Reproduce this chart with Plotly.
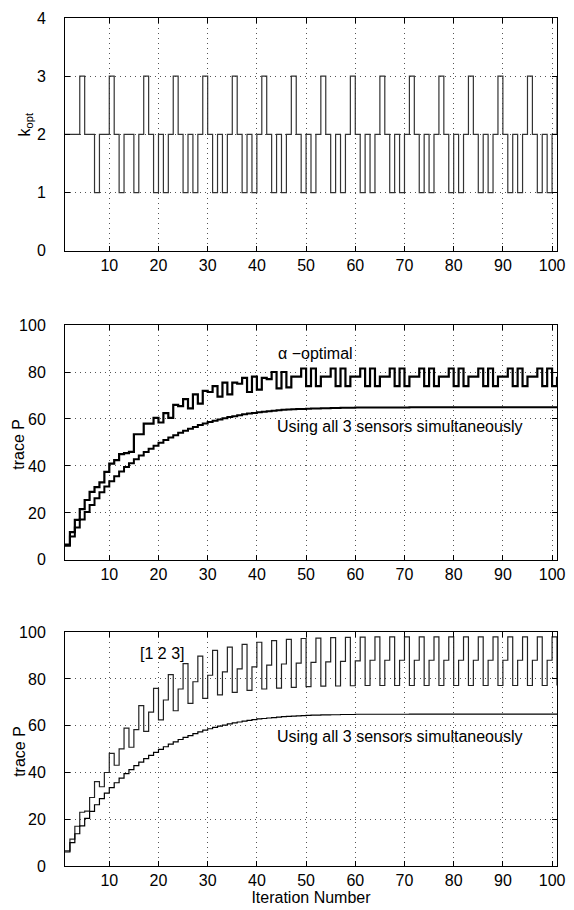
import plotly.graph_objects as go

# iteration index 1..101
iterations = list(range(1, 102))

# sensor chosen by the alpha-optimal scheduler
k_opt = [2, 2, 2, 3, 2, 2, 1, 2, 2, 3, 2, 1, 2, 2, 1, 2,
         3, 2, 1, 2, 1, 2, 3, 2, 1, 2, 1, 2, 3, 2, 1, 2, 1, 2,
         3, 2, 1, 2, 1, 2, 3, 2, 1, 2, 1, 2, 3, 2, 1, 2, 1, 2,
         3, 2, 1, 2, 1, 2, 3, 2, 1, 2, 1, 2, 3, 2, 1, 2, 1, 2,
         3, 2, 1, 2, 1, 2, 3, 2, 1, 2, 1, 2, 3, 2, 1, 2, 1, 2,
         3, 2, 1, 2, 1, 2, 3, 2, 1, 2, 1, 2, 3]

# trace P, alpha-optimal schedule
trace_alpha = [6.5, 11.8, 17.0, 21.6, 25.5, 29.0, 31.0, 33.0, 37.5, 41.0,
               42.5, 45.0, 45.5, 46.0, 53.5, 53.5, 58.0, 58.0, 60.5, 58.5,
               62.5, 60.5, 66.0, 65.5, 68.5, 64.5, 70.5, 66.5, 72.0, 71.5,
               74.0, 69.5, 75.5, 70.5, 75.5, 75.0, 77.5, 71.5, 78.0, 72.5,
               77.5, 77.0, 80.0, 73.0, 80.0, 73.5,
               78.0, 78.0, 81.5, 74.0, 81.5, 74.0, 78.0, 78.0, 81.5, 74.0, 81.5, 74.0,
               78.0, 78.0, 81.5, 74.0, 81.5, 74.0, 78.0, 78.0, 81.5, 74.0, 81.5, 74.0,
               78.0, 78.0, 81.5, 74.0, 81.5, 74.0, 78.0, 78.0, 81.5, 74.0, 81.5, 74.0,
               78.0, 78.0, 81.5, 74.0, 81.5, 74.0, 78.0, 78.0, 81.5, 74.0, 81.5, 74.0,
               78.0, 78.0, 81.5, 74.0, 81.5, 74.0, 78.0]

# trace P, all three sensors used simultaneously
trace_all3 = [6.0, 10.0, 13.8, 17.2, 20.4, 23.4, 26.2, 28.8, 31.2, 33.5,
              35.6, 37.6, 39.5, 41.2, 42.9, 44.4, 45.9, 47.3, 48.6, 49.9,
              51.0, 52.1, 53.1, 54.1, 55.0, 55.8, 56.6, 57.4, 58.1, 58.7,
              59.3, 59.8, 60.3, 60.8, 61.2, 61.6, 62.0, 62.3, 62.6, 62.9,
              63.1, 63.3, 63.5, 63.7, 63.9, 64.0, 64.1, 64.2, 64.3, 64.4,
              64.5, 64.5, 64.6, 64.6, 64.7, 64.7, 64.8, 64.8, 64.8, 64.9,
              64.9, 64.9, 64.9, 64.9, 64.9, 64.9, 64.9, 64.9, 64.9, 64.9,
              65.0, 65.0, 65.0, 65.0, 65.0, 65.0, 65.0, 65.0, 65.0, 65.0,
              65.0, 65.0, 65.0, 65.0, 65.0, 65.0, 65.0, 65.0, 65.0, 65.0,
              65.0, 65.0, 65.0, 65.0, 65.0, 65.0, 65.0, 65.0, 65.0, 65.0,
              65.0]

# trace P, cyclic schedule [1 2 3]
trace_cyclic = [6.5, 11.5, 17.0, 23.0, 23.5, 29.3, 36.1, 33.9, 40.0, 48.2,
                43.1, 50.1, 59.0, 50.8, 58.3, 68.6, 57.6, 65.8, 76.0, 62.5,
                71.0, 81.9, 66.4, 75.7, 86.6, 69.6, 78.8, 89.8, 71.7, 81.6,
                92.2, 73.2, 83.0, 93.6, 74.3, 84.3, 94.8, 75.1, 85.2, 95.7,
                75.7, 85.9, 96.4, 76.1, 86.4, 96.9, 76.4, 86.8, 97.3, 76.7,
                87.1, 97.5, 76.9, 87.3, 97.7, 77.0, 87.5, 97.8, 77.1, 87.7,
                97.9, 77.2, 88.0, 98.0, 77.2, 88.0, 98.0, 77.2, 88.0, 98.0,
                77.2, 88.0, 98.0, 77.2, 88.0, 98.0, 77.2, 88.0, 98.0, 77.2,
                88.0, 98.0, 77.2, 88.0, 98.0, 77.2, 88.0, 98.0, 77.2, 88.0,
                98.0, 77.2, 88.0, 98.0, 77.2, 88.0, 98.0, 77.2, 88.0, 98.0,
                77.2]

x_ticks = [10, 20, 30, 40, 50, 60, 70, 80, 90, 100]

FONT = "Liberation Sans, Arial, Helvetica, sans-serif"
FS = 16

fig = go.Figure()

# top: k_opt
fig.add_trace(go.Scatter(x=iterations, y=k_opt, mode="lines", line_shape="hv",
                         line=dict(color="#333333", width=1.2),
                         xaxis="x", yaxis="y", showlegend=False))
# middle
fig.add_trace(go.Scatter(x=iterations, y=trace_alpha, mode="lines", line_shape="hv",
                         line=dict(color="black", width=2.2),
                         xaxis="x2", yaxis="y2", showlegend=False))
fig.add_trace(go.Scatter(x=iterations, y=trace_all3, mode="lines", line_shape="hv",
                         line=dict(color="black", width=2.0),
                         xaxis="x2", yaxis="y2", showlegend=False))
# bottom
fig.add_trace(go.Scatter(x=iterations, y=trace_cyclic, mode="lines", line_shape="hv",
                         line=dict(color="#222222", width=1.2),
                         xaxis="x3", yaxis="y3", showlegend=False))
fig.add_trace(go.Scatter(x=iterations, y=trace_all3, mode="lines", line_shape="hv",
                         line=dict(color="black", width=1.2),
                         xaxis="x3", yaxis="y3", showlegend=False))

axis_common = dict(showline=True, linecolor="black", linewidth=1, mirror="allticks",
                   ticks="inside", ticklen=5, tickcolor="black",
                   showgrid=True, gridcolor="#555555", gridwidth=1, griddash="1px,4px",
                   zeroline=False, tickfont=dict(family=FONT, size=FS, color="black"))

xcommon = dict(axis_common, range=[1, 101], tickvals=x_ticks)
ycommon = dict(axis_common, ticklabelstandoff=15)

# the page body adds an 8px offset; plot area lands at x 65-557, panels 10-245, 320-557, 630-866
fig.update_layout(
    width=566, height=902,
    margin=dict(l=57, r=17, t=2, b=44),
    plot_bgcolor="white", paper_bgcolor="white",
    font=dict(family=FONT, size=FS, color="black"),
    xaxis=dict(xcommon, anchor="y", domain=[0, 1]),
    yaxis=dict(ycommon, range=[0, 4], tickvals=[0, 1, 2, 3, 4],
               domain=[0.7255, 1.0], anchor="x"),
    xaxis2=dict(xcommon, anchor="y2", domain=[0, 1]),
    yaxis2=dict(ycommon, range=[0, 100], tickvals=[0, 20, 40, 60, 80, 100],
                domain=[0.361, 0.6379], anchor="x2"),
    xaxis3=dict(xcommon, anchor="y3", domain=[0, 1],
                title=dict(text="Iteration Number", standoff=0,
                           font=dict(family=FONT, size=FS))),
    yaxis3=dict(ycommon, range=[0, 100], tickvals=[0, 20, 40, 60, 80, 100],
                domain=[0.0, 0.2757], anchor="x3"),
)

# y-axis titles
fig.add_annotation(x=-0.080, y=0.874, xref="paper", yref="paper", text="k<sub>opt</sub>",
                   textangle=-90, showarrow=False, xanchor="center", yanchor="middle",
                   font=dict(family=FONT, size=FS))
fig.add_annotation(x=-0.094, y=0.4977, xref="paper", yref="paper", text="trace P",
                   textangle=-90, showarrow=False, xanchor="center", yanchor="middle",
                   font=dict(family=FONT, size=FS))
fig.add_annotation(x=-0.094, y=0.1355, xref="paper", yref="paper", text="trace P",
                   textangle=-90, showarrow=False, xanchor="center", yanchor="middle",
                   font=dict(family=FONT, size=FS))

# curve labels
fig.add_annotation(x=52, y=88, xref="x2", yref="y2", text="α −optimal",
                   showarrow=False, font=dict(family=FONT, size=FS))
fig.add_annotation(x=69, y=57, xref="x2", yref="y2",
                   text="Using all 3 sensors simultaneously",
                   showarrow=False, font=dict(family=FONT, size=FS))
fig.add_annotation(x=69, y=55.5, xref="x3", yref="y3",
                   text="Using all 3 sensors simultaneously",
                   showarrow=False, font=dict(family=FONT, size=FS))
fig.add_annotation(x=20.7, y=90.8, xref="x3", yref="y3", text="[1 2 3]",
                   showarrow=False, font=dict(family=FONT, size=FS))

fig.write_html("out.html")
